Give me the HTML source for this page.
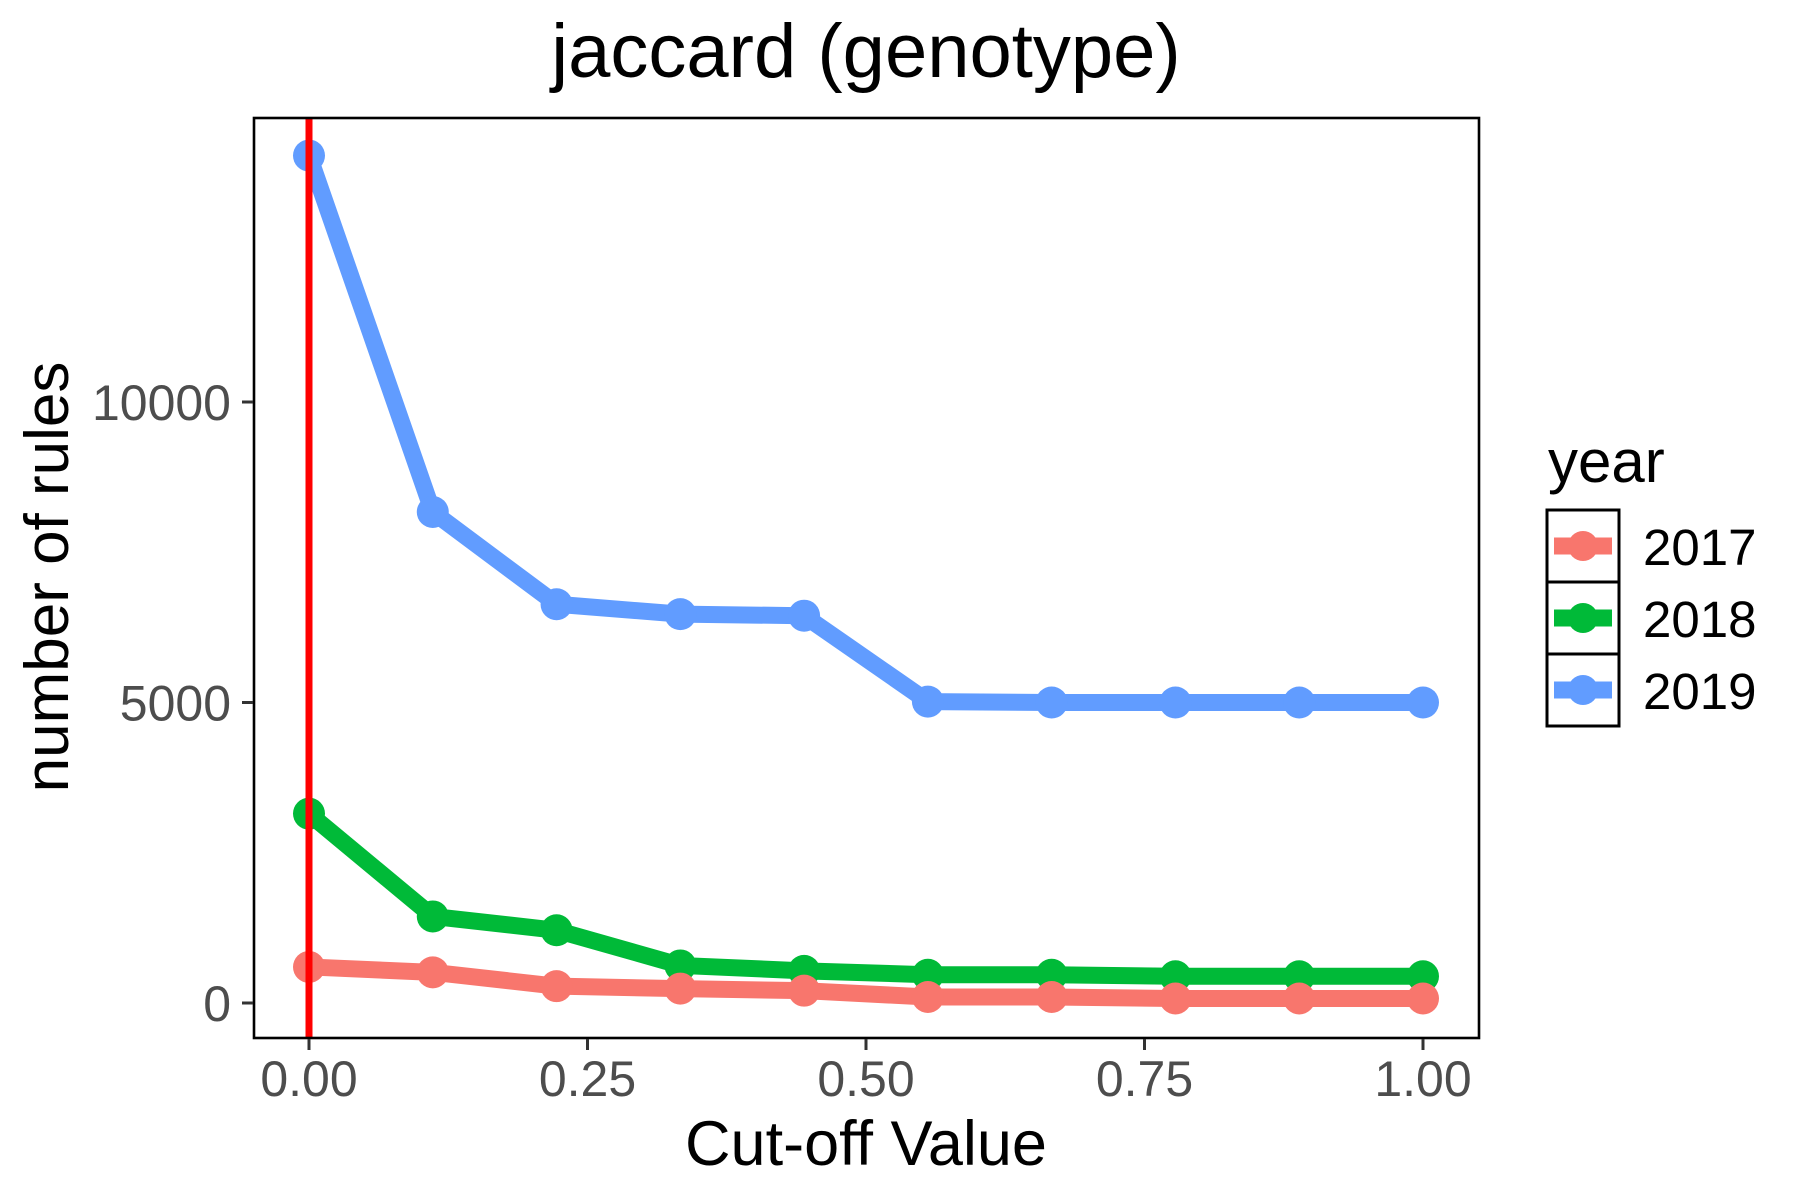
<!DOCTYPE html>
<html><head><meta charset="utf-8"><style>
html,body{margin:0;padding:0;background:#fff}
svg{display:block;font-family:"Liberation Sans",sans-serif}
</style></head><body>
<svg id="chart" width="1800" height="1200" viewBox="0 0 1800 1200">
<text x="866" y="77" font-size="76" text-anchor="middle" fill="#000">jaccard (genotype)</text>
<text x="0" y="0" font-size="62" text-anchor="middle" fill="#000" transform="translate(68,577) rotate(-90)">number of rules</text>
<text x="866" y="1165" font-size="63" text-anchor="middle" fill="#000">Cut-off Value</text>
<g id="plot"></g>
<rect x="254" y="118" width="1225" height="920" fill="none" stroke="#000" stroke-width="2.6"/>
<g id="legend">
<text x="1548" y="482" font-size="60" fill="#000">year</text>
</g>
</svg>
<script>
const cutoffs = [0, 1/9, 2/9, 3/9, 4/9, 5/9, 6/9, 7/9, 8/9, 1];
const years = ["2017", "2018", "2019"];
const colors = ["#F8766D", "#00BA38", "#619CFF"];
const values2017 = [600, 510, 280, 240, 205, 100, 100, 75, 75, 75];
const values2018 = [3150, 1440, 1210, 625, 535, 470, 470, 445, 445, 445];
const values2019 = [14100, 8170, 6635, 6470, 6444, 5015, 5000, 5000, 5000, 5000];
const xTicks = [0, 0.25, 0.5, 0.75, 1];
const xTickLabels = ["0.00", "0.25", "0.50", "0.75", "1.00"];
const yTicks = [0, 5000, 10000];
const yTickLabels = ["0", "5000", "10000"];
const vlineX = 0;

const NS = "http://www.w3.org/2000/svg";
const xs = v => 309 + 1114 * v;
const ys = v => 1003 - 0.0601 * v;
const plot = document.getElementById('plot');
const svg = document.getElementById('chart');
function mk(tag, attrs, parent) {
  const e = document.createElementNS(NS, tag);
  for (const k in attrs) e.setAttribute(k, attrs[k]);
  parent.appendChild(e);
  return e;
}
xTicks.forEach((t, i) => {
  const l = mk('line', {x1: xs(t), x2: xs(t), y1: 1039, y2: 1050, stroke: '#333', 'stroke-width': 3}, svg);
  
  
  const tx = mk('text', {x: xs(t), y: 1096, 'font-size': 50, 'text-anchor': 'middle', fill: '#4D4D4D'}, svg);
  tx.textContent = xTickLabels[i];
  
  
});
yTicks.forEach((t, i) => {
  const l = mk('line', {x1: 242, x2: 253, y1: ys(t), y2: ys(t), stroke: '#333', 'stroke-width': 3}, svg);
  
  
  const tx = mk('text', {x: 231, y: ys(t) + 18, 'font-size': 50, 'text-anchor': 'end', fill: '#4D4D4D'}, svg);
  tx.textContent = yTickLabels[i];
  
  
});
const series = [values2017, values2018, values2019];
[2, 1, 0].forEach(si => {
  const vals = series[si];
  const g = mk('g', {}, plot);
  
  
  const pts = vals.map((v, i) => xs(cutoffs[i]) + ',' + ys(v)).join(' ');
  const pl = mk('polyline', {points: pts, fill: 'none', stroke: colors[si], 'stroke-width': 17, 'stroke-linejoin': 'round'}, g);
  
  
  vals.forEach((v, i) => {
    const c = mk('circle', {cx: xs(cutoffs[i]), cy: ys(v), r: 16, fill: colors[si]}, g);
    
    
  });
});
const vl = mk('line', {x1: xs(vlineX), x2: xs(vlineX), y1: 118, y2: 1038, stroke: '#FF0000', 'stroke-width': 7}, plot);


const leg = document.getElementById('legend');
years.forEach((y, i) => {
  const top = 510 + i * 72;
  const r = mk('rect', {x: 1547, y: top, width: 72, height: 72, fill: '#fff', stroke: '#000', 'stroke-width': 3}, leg);
  
  
  const l = mk('line', {x1: 1554, x2: 1612, y1: top + 36, y2: top + 36, stroke: colors[i], 'stroke-width': 17}, leg);
  
  
  const c = mk('circle', {cx: 1583, cy: top + 36, r: 15, fill: colors[i]}, leg);
  
  
  const t = mk('text', {x: 1643, y: top + 55, 'font-size': 51, fill: '#000'}, leg);
  t.textContent = y;
  
  
});
</script>
</body></html>
